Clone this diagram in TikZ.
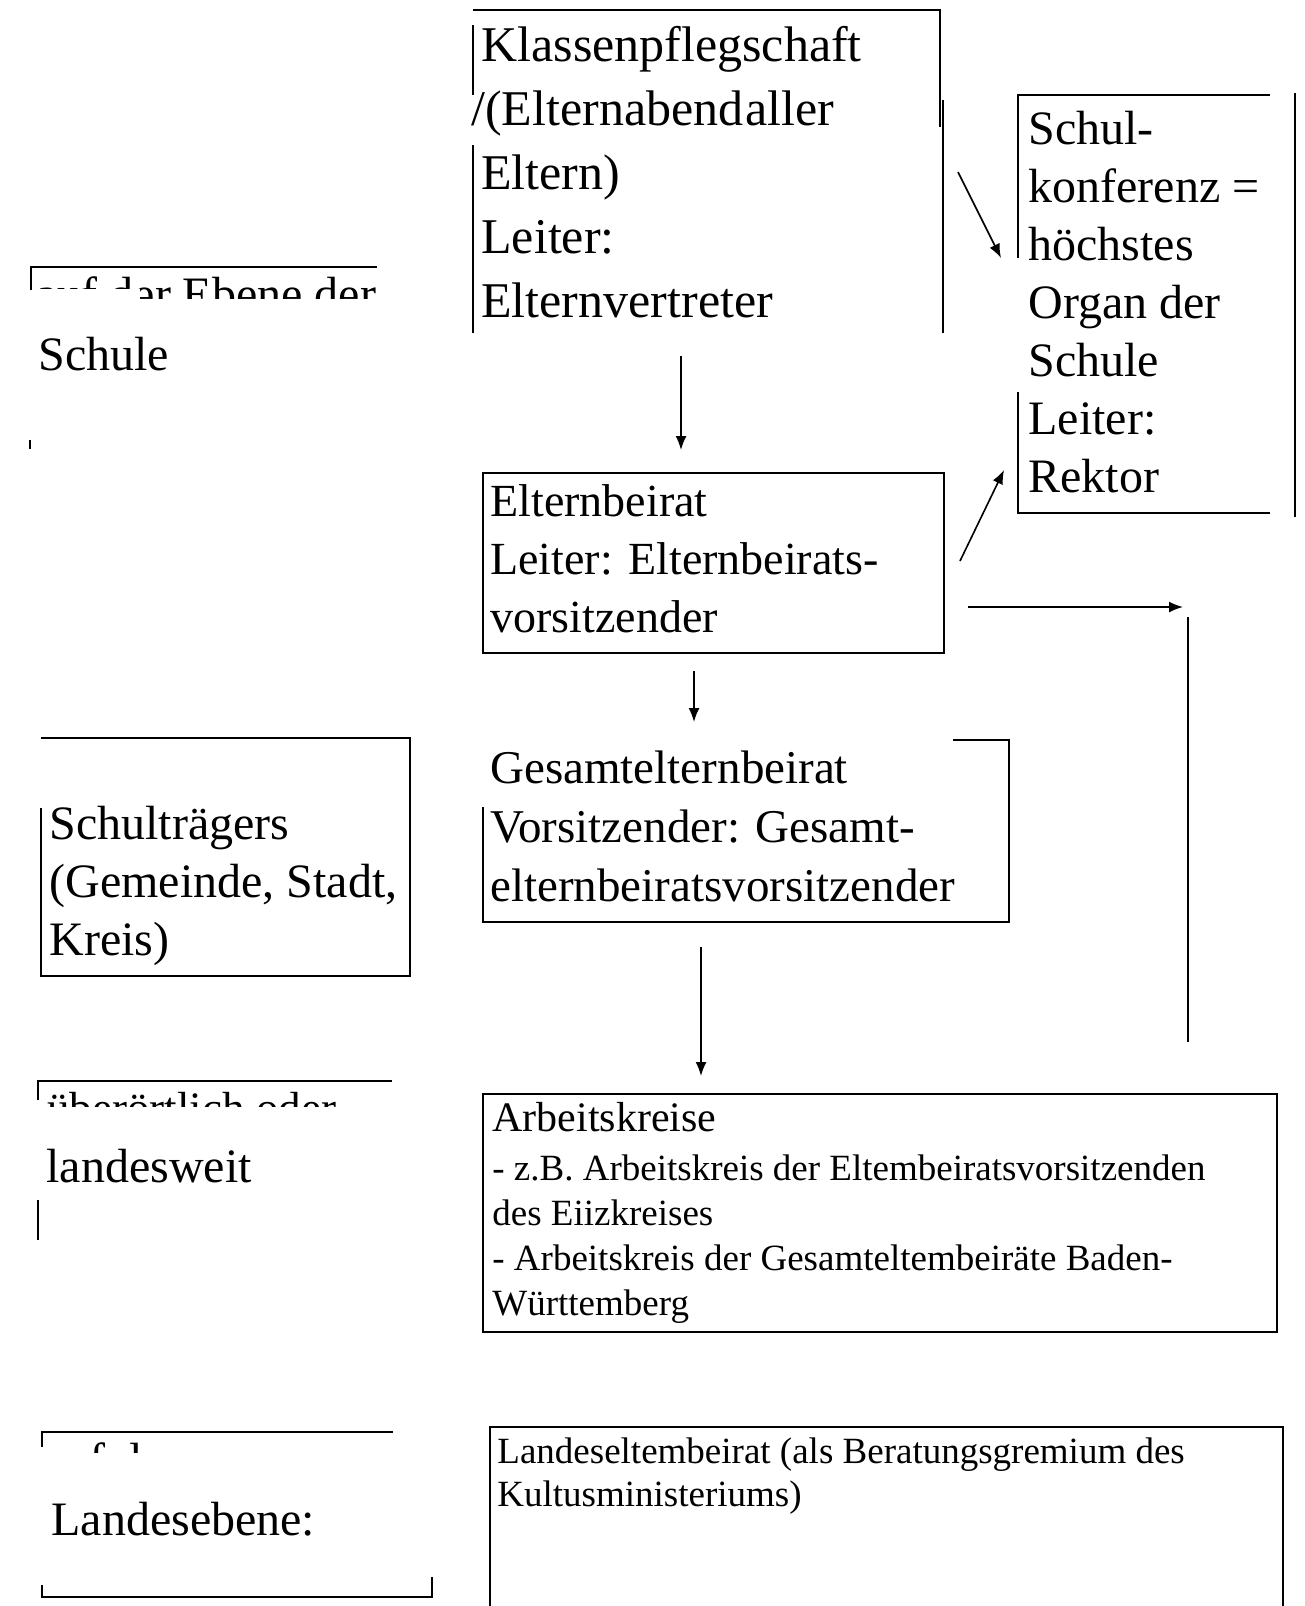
\documentclass[tikz,border=0pt]{standalone}
\usepackage{fontspec}
\setmainfont{Liberation Serif}
\usetikzlibrary{calc,arrows.meta}
\begin{document}
\begin{tikzpicture}[x=0.5pt,y=-0.5pt,
    frame/.style={line width=1.1pt},
    arr/.style={line width=0.8pt,-{Latex[length=7pt,width=5.5pt]}},
    area/.style={inner sep=0pt,outer sep=0pt},
    txt/.style={anchor=north west,inner sep=0pt,align=left}]
  \useasboundingbox (0,0) rectangle (1305,1606);
  %% areas of the boxes
  \node[area,minimum width=235pt,minimum height=161.5pt] (kps) at (708,171.5) {};
  \node[area,minimum width=126pt,minimum height=209pt] (skf) at (1144,304) {};
  \node[area,draw,frame,minimum width=230.5pt,minimum height=90pt] (ebr) at (713.5,563) {};
  \node[area,minimum width=263pt,minimum height=91pt] (geb) at (746,831) {};
  \node[area,draw,frame,minimum width=397pt,minimum height=119pt] (ak) at (880,1213) {};
  \node[area,minimum width=396.5pt,minimum height=89.5pt] (leb) at (886.5,1516.5) {};
  \node[area,minimum width=184.5pt,minimum height=119pt] (str) at (225.5,857) {};
  %% Klassenpflegschaft
  \draw[frame] (473,10) -- (940,10) -- (940,127);
  \draw[frame] (943,100) -- (943,333);
  \draw[frame] (473,25) -- (473,95);
  \draw[frame] (473,145) -- (473,333);
  \node[txt,font=\fontsize{25}{32}\selectfont] (kpstext) at (481,26)
    {Klassenpflegschaft\\\hspace*{-5pt}/(Elternabend\hspace{1pt}aller\\Eltern)\\Leiter:\\Elternvertreter};
  %% Schulkonferenz
  \draw[frame] (1018,258) -- (1018,95) -- (1270,95);
  \draw[frame] (1018,392) -- (1018,513) -- (1270,513);
  \draw[line width=1.4pt] (1295,93) -- (1295,517);
  \node[txt,font=\fontsize{24}{29}\selectfont] (skftext) at (1028,111)
    {Schul-\\konferenz =\\höchstes\\Organ der\\Schule\\Leiter:\\Rektor};
  %% Elternbeirat
  \node[txt,font=\fontsize{23}{29}\selectfont] (ebrtext) at (490,484)
    {Elternbeirat\\Leiter: Elternbeirats-\\vorsitzender};
  %% Gesamtelternbeirat
  \draw[frame] (953,740) -- (1009,740) -- (1009,922) -- (483,922) -- (483,807);
  \node[txt,font=\fontsize{23.5}{29.5}\selectfont] (gebtext) at (490,750)
    {Gesamtelternbeirat\\Vorsitzender: Gesamt-\\elternbeiratsvorsitzender};
  %% Arbeitskreise
  \node[txt,font=\fontsize{18.5}{22.5}\selectfont] (aktext) at (492,1102)
    {{\fontsize{21}{22.5}\selectfont Arbeitskreise}\\[2pt]
     - z.B. Arbeitskreis der Eltembeiratsvorsitzenden\\des Eiizkreises\\
     - Arbeitskreis der Gesamteltembeiräte Baden-\\Württemberg};
  %% Landeselternbeirat
  \draw[frame] (490,1606) -- (490,1427) -- (1283,1427) -- (1283,1606);
  \node[txt,font=\fontsize{18.5}{21.5}\selectfont] (lebtext) at (497,1437)
    {Landeseltembeirat (als Beratungsgremium des\\Kultusministeriums)};
  %% Schulträgers
  \draw[frame] (41,808) -- (41,976) -- (410,976) -- (410,738) -- (41,738);
  \node[txt,font=\fontsize{24}{29}\selectfont] (strtext) at (49,806)
    {Schulträgers\\(Gemeinde, Stadt,\\Kreis)};
  %% left column: Schule
  \draw[frame] (31,290) -- (31,267) -- (377,267);
  \draw[frame] (30,440) -- (30,449);
  \begin{scope}
    \clip (0,268) rectangle (140,288) (140,268) rectangle (380,298);
    \node[anchor=base west,inner sep=0pt,font=\fontsize{24}{29}\selectfont] (hdschule) at (36,310) {auf der Ebene der};
  \end{scope}
  \node[txt,font=\fontsize{24}{29}\selectfont] (lschule) at (38,337) {Schule};
  %% left column: landesweit
  \draw[frame] (38,1100) -- (38,1081) -- (392,1081);
  \draw[frame] (38,1200) -- (38,1240);
  \begin{scope}
    \clip (0,1082) rectangle (395,1106);
    \node[anchor=base west,inner sep=0pt,font=\fontsize{22.5}{27}\selectfont] (hdland) at (47,1123) {überörtlich oder};
  \end{scope}
  \node[txt,font=\fontsize{24}{29}\selectfont] (llandesweit) at (46,1149) {landesweit};
  %% left column: Landesebene
  \draw[frame] (42,1447) -- (42,1432) -- (393,1432);
  \draw[line width=1.4pt] (42,1585) -- (42,1597) -- (432,1597) -- (432,1577);
  \begin{scope}
    \clip (0,1433) rectangle (395,1452);
    \node[anchor=base west,inner sep=0pt,font=\fontsize{24}{29}\selectfont] (hdlandes) at (44,1476) {auf der};
  \end{scope}
  \node[txt,font=\fontsize{24}{29}\selectfont] (llandesebene) at (51,1502) {Landesebene:};
  %% arrows
  \draw[arr] ($(kps.south)+(-27,23)$) -- ($(ebr.north)+(-32.5,-23)$);
  \draw[arr] ($(ebr.south)+(-19.5,18)$) -- ($(geb.north)+(-52,-18)$);
  \draw[arr] ($(geb.south)+(-45,25)$) -- ($(ak.north)+(-179,-18)$);
  \draw[arr] ($(kps.east)+(15,0.5)$) -- ($(skf.west)+(-17,-46)$);
  \draw[arr] ($(ebr.east)+(16,-2)$) -- ($(skf.west)+(-14,166)$);
  \coordinate (rtop) at (1183,607);
  \draw[arr] ($(ebr.east)+(24,44)$) -- (rtop);
  \draw[line width=0.8pt] (1188,617) -- (1188,1042);
\end{tikzpicture}
\end{document}
